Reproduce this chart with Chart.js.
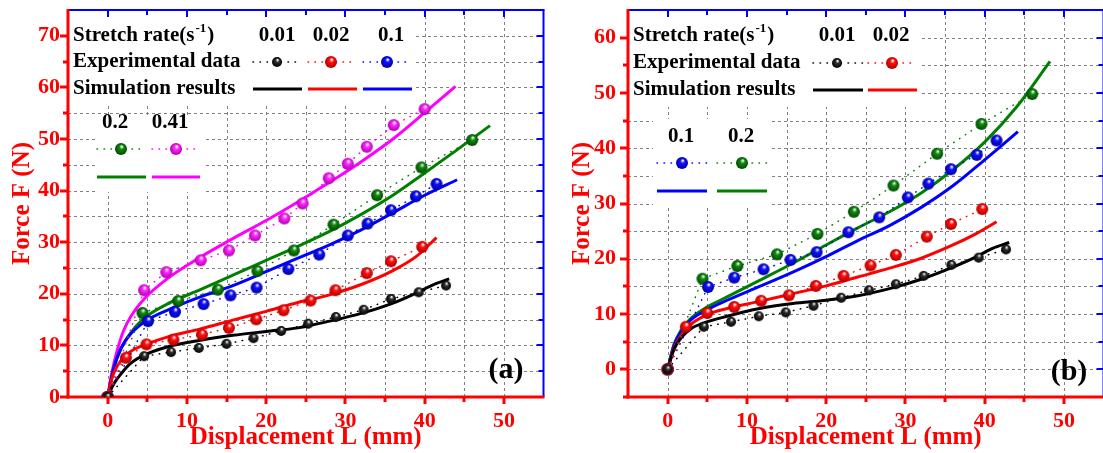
<!DOCTYPE html>
<html>
<head>
<meta charset="utf-8">
<script src="https://cdn.jsdelivr.net/npm/chart.js@4.4.0/dist/chart.umd.min.js"></script>
<style>
  html, body { margin: 0; padding: 0; background: #fff; overflow: hidden; }
  #wrap { position: relative; width: 1103px; height: 453px; overflow: hidden; }
  #chartA { position: absolute; left: 0; top: 0; }
  #chartB { position: absolute; left: 551px; top: 0; }
</style>
</head>
<body>
<div id="wrap">
  <canvas id="chartA" width="551" height="453"></canvas>
  <canvas id="chartB" width="560" height="453"></canvas>
</div>
<script>
// stretch rates (s^-1) and their colours
const rates = ['0.01', '0.02', '0.1', '0.2', '0.41'];
const rateColors = ['#000000', '#ff0000', '#0000ff', '#008000', '#ff00ff'];
const ballBody = ['#303030', '#ff1010', '#1010ff', '#108a10', '#ff2aff'];
const ballEdge = ['#000000', '#b00000', '#0000a0', '#004a00', '#b000b0'];

// tick labels
const xTickLabels = [0, 10, 20, 30, 40, 50];
const yTickLabelsA = [0, 10, 20, 30, 40, 50, 60, 70];
const yTickLabelsB = [0, 10, 20, 30, 40, 50, 60];

// (a) experimental data: displacement (mm), force (N)
const a_exp_x_001 = [0, 4.6, 8.0, 11.5, 15.0, 18.4, 21.9, 25.3, 28.8, 32.3, 35.75, 39.25, 42.7];
const a_exp_y_001 = [0, 7.9, 8.7, 9.5, 10.3, 11.4, 12.8, 14.2, 15.5, 16.9, 19.0, 20.3, 21.6];
const a_exp_x_002 = [0, 2.3, 4.9, 8.3, 11.9, 15.3, 18.75, 22.2, 25.6, 28.75, 32.7, 35.75, 39.7];
const a_exp_y_002 = [0, 7.6, 10.2, 11.1, 12.1, 13.4, 15.05, 16.8, 18.7, 20.7, 24.0, 26.3, 29.1];
const a_exp_x_01 = [0, 5.1, 8.5, 12.1, 15.5, 18.8, 22.8, 26.7, 30.3, 32.8, 35.75, 38.9, 41.5];
const a_exp_y_01 = [0, 14.7, 16.5, 18.0, 19.7, 21.2, 24.8, 27.6, 31.3, 33.6, 36.2, 38.9, 41.3];
const a_exp_x_02 = [0, 4.4, 8.9, 13.9, 18.9, 23.5, 28.5, 34.0, 39.6, 46.0];
const a_exp_y_02 = [0, 16.3, 18.6, 20.8, 24.4, 28.4, 33.4, 39.1, 44.5, 49.8];
const a_exp_x_041 = [0, 4.6, 7.4, 11.75, 15.3, 18.6, 22.3, 24.6, 27.9, 30.3, 32.7, 36.1, 40.0];
const a_exp_y_041 = [0, 20.7, 24.2, 26.5, 28.4, 31.3, 34.6, 37.5, 42.4, 45.2, 48.5, 52.7, 55.8];

// (a) simulation results
const a_sim_x_001 = [0, 0.8, 1.7, 2.9, 4.6, 7.5, 11.7, 15.8, 20, 24, 28, 32, 36, 39, 41, 43.1];
const a_sim_y_001 = [0, 2.6, 4.5, 6.5, 8.1, 9.7, 11.0, 11.95, 12.7, 13.4, 14.7, 16.2, 18.2, 20.2, 21.7, 22.9];
const a_sim_x_002 = [0, 0.6, 1.25, 2.3, 3.3, 5, 7.5, 11.7, 15.8, 20, 24, 28, 32, 36, 39, 41.5];
const a_sim_y_002 = [0, 3.9, 6.1, 8.1, 9.2, 10.3, 11.6, 13.2, 14.9, 16.6, 18.3, 19.8, 21.8, 24.5, 27.3, 30.9];
const a_sim_x_01 = [0, 0.8, 1.7, 2.9, 5, 7.5, 11.7, 15.8, 20, 24, 28, 32, 36, 40, 44.1];
const a_sim_y_01 = [0, 5.8, 9.5, 12.2, 14.9, 16.8, 19.4, 21.6, 24.3, 26.9, 29.5, 32.4, 35.7, 39.1, 42.1];
const a_sim_x_02 = [0, 0.8, 1.7, 2.9, 4.4, 7.5, 11.7, 15.8, 20, 24, 28, 32, 36, 40, 44, 48.25];
const a_sim_y_02 = [0, 5.6, 9.4, 12.4, 15.0, 18.0, 20.8, 23.6, 26.5, 29.2, 32.1, 35.4, 39.1, 43.4, 47.8, 52.6];
const a_sim_x_041 = [0, 0.5, 1.2, 2, 3, 4.6, 7.5, 11.7, 15.8, 20, 24, 28, 32, 36, 40, 43.9];
const a_sim_y_041 = [0, 4.5, 9.0, 12.8, 15.8, 19.0, 22.9, 27.1, 30.7, 34.2, 37.8, 41.6, 45.6, 50.0, 55.1, 60.2];

// (b) experimental data
const b_exp_x_001 = [0, 4.56, 8.0, 11.5, 14.9, 18.4, 21.9, 25.4, 28.8, 32.3, 35.8, 39.25, 42.7];
const b_exp_y_001 = [0, 7.7, 8.6, 9.6, 10.3, 11.5, 12.95, 14.3, 15.4, 16.9, 18.9, 20.2, 21.7];
const b_exp_x_002 = [0, 2.3, 5.0, 8.4, 11.8, 15.3, 18.7, 22.2, 25.6, 28.8, 32.7, 35.75, 39.7];
const b_exp_y_002 = [0, 7.7, 10.2, 11.3, 12.4, 13.4, 15.1, 16.9, 18.8, 20.7, 24.0, 26.3, 29.0];
const b_exp_x_01 = [0, 5.1, 8.4, 12.1, 15.5, 18.8, 22.8, 26.7, 30.3, 32.9, 35.75, 39.0, 41.5];
const b_exp_y_01 = [0, 14.9, 16.6, 18.1, 19.8, 21.2, 24.8, 27.5, 31.1, 33.6, 36.2, 38.8, 41.4];
const b_exp_x_02 = [0, 4.4, 8.8, 13.8, 18.9, 23.5, 28.5, 34.0, 39.6, 46.0];
const b_exp_y_02 = [0, 16.4, 18.7, 20.8, 24.5, 28.5, 33.25, 39.0, 44.4, 49.8];

// (b) simulation results
const b_sim_x_001 = [0, 0.8, 1.7, 2.9, 4.6, 7.5, 11.6, 15.8, 20, 24, 28, 32, 36, 39, 41, 43.1];
const b_sim_y_001 = [0, 3.6, 5.7, 7.3, 8.4, 9.6, 11.0, 11.9, 12.5, 13.3, 14.6, 16.3, 18.5, 20.4, 21.9, 22.95];
const b_sim_x_002 = [0, 0.8, 1.7, 2.9, 5, 7.5, 11.6, 15.8, 20, 24, 28, 32, 36, 39, 41.5];
const b_sim_y_002 = [0, 3.8, 6.1, 8.1, 9.9, 11.0, 12.3, 13.7, 15.1, 16.7, 18.3, 20.1, 22.5, 24.6, 26.7];
const b_sim_x_01 = [0, 0.8, 1.7, 2.9, 5, 7.5, 11.6, 15.8, 20, 24, 28, 32, 36, 40, 42, 44.2];
const b_sim_y_01 = [0, 4.3, 6.8, 8.9, 10.8, 12.5, 15.0, 17.6, 20.4, 23.3, 26.0, 29.3, 33.2, 37.9, 40.3, 43.0];
const b_sim_x_02 = [0, 0.8, 1.7, 2.9, 5, 7.5, 11.6, 15.8, 20, 24, 28, 32, 36, 40, 44, 48.25];
const b_sim_y_02 = [0, 4.5, 7.1, 9.2, 11.3, 13.1, 16.1, 19.2, 22.5, 25.6, 28.5, 31.9, 36.1, 41.1, 47.4, 55.7];

const serif = "'Liberation Serif', 'Times New Roman', serif";

// shaded ball used as point marker
function makeBall(k, r) {
  const s = Math.ceil(r * 2) + 2;
  const c = document.createElement('canvas');
  c.width = s; c.height = s;
  const g = c.getContext('2d');
  const cx = s / 2, cy = s / 2;
  const grad = g.createRadialGradient(cx + r * 0.15, cy - r * 0.45, r * 0.05, cx, cy, r);
  grad.addColorStop(0, '#ffffff');
  grad.addColorStop(0.35, ballBody[k]);
  grad.addColorStop(1, ballEdge[k]);
  g.fillStyle = grad;
  g.beginPath();
  g.arc(cx, cy, r, 0, Math.PI * 2);
  g.fill();
  return c;
}
const balls = rates.map((r, k) => makeBall(k, k === 0 ? 5 : 6));

function pts(xs, ys) { return xs.map((x, i) => ({ x: x, y: ys[i] })); }

function expSet(xs, ys, k) {
  return {
    data: pts(xs, ys), showLine: true, borderColor: rateColors[k], borderWidth: 1.5,
    borderDash: [0.5, 6.5], borderCapStyle: 'round', tension: 0,
    pointStyle: balls[k], pointRadius: 6, order: 1
  };
}
function simSet(xs, ys, k) {
  return {
    data: pts(xs, ys), showLine: true, borderColor: rateColors[k], borderWidth: 3,
    pointRadius: 0, cubicInterpolationMode: 'monotone', order: 2
  };
}

function line(ctx, x0, y0, x1, y1) {
  ctx.beginPath(); ctx.moveTo(x0, y0); ctx.lineTo(x1, y1); ctx.stroke();
}

// dashed grey grid every 5 units
function drawGrid(chart) {
  const ctx = chart.ctx, a = chart.chartArea;
  const x = chart.scales.x, y = chart.scales.y;
  ctx.save();
  ctx.strokeStyle = '#808080';
  ctx.lineWidth = 1;
  ctx.setLineDash([3, 3]);
  for (let v = x.min + 5; v < x.max; v += 5) {
    const px = Math.round(x.getPixelForValue(v)) + 0.5;
    line(ctx, px, a.top, px, a.bottom);
  }
  for (let v = y.min + 5; v < y.max; v += 5) {
    const py = Math.round(y.getPixelForValue(v)) + 0.5;
    line(ctx, a.left, py, a.right, py);
  }
  ctx.restore();
}

function drawFrame(chart) {
  const ctx = chart.ctx, a = chart.chartArea;
  const x = chart.scales.x, y = chart.scales.y;
  ctx.save();
  ctx.setLineDash([]);
  // top and right axes, ticks pointing in
  ctx.strokeStyle = '#0000ff';
  ctx.lineWidth = 2;
  for (let v = x.min + 5; v < x.max; v += 5) {
    const px = Math.round(x.getPixelForValue(v));
    line(ctx, px, a.top, px, a.top + (v % 10 === 0 ? 7 : 5));
  }
  for (let v = y.min + 5; v < y.max; v += 5) {
    const py = Math.round(y.getPixelForValue(v));
    line(ctx, a.right, py, a.right - (v % 10 === 0 ? 7 : 5), py);
  }
  line(ctx, a.left, a.top, a.right + 1, a.top);
  line(ctx, a.right, a.top, a.right, a.bottom);
  // left and bottom axes, ticks pointing out
  ctx.strokeStyle = '#ff0000';
  ctx.lineWidth = 3;
  for (let v = x.min + 5; v < x.max; v += 5) {
    const px = Math.round(x.getPixelForValue(v));
    line(ctx, px, a.bottom, px, a.bottom + (v % 10 === 0 ? 7 : 5));
  }
  for (let v = y.min; v < y.max; v += 5) {
    const py = Math.round(y.getPixelForValue(v));
    line(ctx, a.left, py, a.left - (v % 10 === 0 ? 8 : 5), py);
  }
  line(ctx, a.left, a.top - 1, a.left, a.bottom + 1.5);
  line(ctx, a.left - 1.5, a.bottom, a.right + 1, a.bottom);
  ctx.restore();
}

const panelPlugin = {
  id: 'panel',
  beforeDatasetsDraw(chart, args, o) {
    const ctx = chart.ctx;
    drawGrid(chart);
    ctx.save();
    ctx.fillStyle = '#ffffff';
    o.boxes.forEach(b => ctx.fillRect(b[0], b[1], b[2] - b[0], b[3] - b[1]));
    ctx.restore();
    drawFrame(chart);

    ctx.save();
    ctx.fillStyle = '#000000';
    ctx.textBaseline = 'middle';
    ctx.textAlign = 'left';
    ctx.font = 'bold 21px ' + serif;
    // row captions
    const w = ctx.measureText('Stretch rate(s').width;
    ctx.fillText('Stretch rate(s', o.textX, o.rows[0]);
    ctx.font = 'bold 13px ' + serif;
    ctx.fillText('-1', o.textX + w + 1, o.rows[0] - 7);
    const w2 = ctx.measureText('-1').width;
    ctx.font = 'bold 21px ' + serif;
    ctx.fillText(')', o.textX + w + w2 + 2, o.rows[0]);
    ctx.fillText('Experimental data', o.textX, o.rows[1]);
    ctx.fillText('Simulation results', o.textX, o.rows[2]);

    // one column per stretch rate
    o.cols.forEach(c => {
      ctx.fillStyle = '#000000';
      ctx.textAlign = 'center';
      ctx.font = 'bold 21px ' + serif;
      ctx.fillText(rates[c.s], c.lx, c.ly);
      ctx.strokeStyle = rateColors[c.s];
      ctx.lineCap = 'round';
      ctx.lineWidth = 1.5;
      ctx.setLineDash([0.5, 6.5]);
      line(ctx, c.x0, c.dy, c.x1, c.dy);
      ctx.setLineDash([]);
      ctx.lineCap = 'butt';
      ctx.lineWidth = 3;
      line(ctx, c.x0, c.sy, c.x1, c.sy);
      const b = balls[c.s];
      ctx.drawImage(b, c.bx - b.width / 2, c.dy - b.height / 2);
    });
    ctx.restore();
  },
  afterDraw(chart, args, o) {
    const ctx = chart.ctx;
    ctx.save();
    ctx.fillStyle = '#000000';
    ctx.font = 'bold 30px ' + serif;
    ctx.textAlign = 'center';
    ctx.textBaseline = 'middle';
    ctx.fillText(o.tag, o.tagX, o.tagY);
    ctx.restore();
  }
};

function makePanel(id, datasets, yMin, yMax, yLabels, yLabelPad, yWidth, titlePad, panelOpts) {
  return new Chart(document.getElementById(id), {
    type: 'scatter',
    data: { datasets: datasets },
    plugins: [panelPlugin],
    options: {
      responsive: false,
      devicePixelRatio: 1,
      animation: false,
      events: [],
      layout: { padding: { left: 0, right: 4, top: 10, bottom: 0 } },
      scales: {
        x: {
          type: 'linear', min: -5, max: 55,
          grid: { display: false, drawTicks: false },
          border: { display: false },
          ticks: {
            stepSize: 5, autoSkip: false, maxRotation: 0, padding: 11, color: '#ff0000',
            font: { family: serif, size: 22, weight: 'bold' },
            callback: v => xTickLabels.includes(v) ? String(v) : ''
          },
          title: {
            display: true, text: 'Displacement L (mm)', color: '#ff0000',
            font: { family: serif, size: 25, weight: 'bold' }, padding: { top: 0, bottom: 0 }
          },
          afterFit: s => { s.height = 56; s.paddingLeft = 0; s.paddingRight = 0; }
        },
        y: {
          type: 'linear', min: yMin, max: yMax,
          grid: { display: false, drawTicks: false },
          border: { display: false },
          ticks: {
            stepSize: 5, autoSkip: false, padding: yLabelPad, color: '#ff0000',
            font: { family: serif, size: 22, weight: 'bold' },
            callback: v => yLabels.includes(v) ? String(v) : ''
          },
          title: {
            display: true, text: 'Force F (N)', color: '#ff0000',
            font: { family: serif, size: 25, weight: 'bold' }, padding: { top: titlePad, bottom: 0 }
          },
          afterFit: s => { s.width = yWidth; s.paddingTop = 0; s.paddingBottom = 0; }
        }
      },
      plugins: {
        legend: { display: false },
        tooltip: { enabled: false },
        panel: panelOpts
      }
    }
  });
}

makePanel('chartA', [
  simSet(a_sim_x_001, a_sim_y_001, 0),
  simSet(a_sim_x_002, a_sim_y_002, 1),
  simSet(a_sim_x_01, a_sim_y_01, 2),
  simSet(a_sim_x_02, a_sim_y_02, 3),
  simSet(a_sim_x_041, a_sim_y_041, 4),
  expSet(a_exp_x_001, a_exp_y_001, 0),
  expSet(a_exp_x_002, a_exp_y_002, 1),
  expSet(a_exp_x_01, a_exp_y_01, 2),
  expSet(a_exp_x_02, a_exp_y_02, 3),
  expSet(a_exp_x_041, a_exp_y_041, 4)
], 0, 75, yTickLabelsA, 8, 68, 8, {
  boxes: [[69, 11, 415, 103], [97, 118, 203, 192]],
  textX: 73, rows: [36, 62, 89],
  cols: [
    { s: 0, lx: 277, ly: 36, x0: 253, x1: 302, bx: 277, dy: 62, sy: 89 },
    { s: 1, lx: 331, ly: 36, x0: 308, x1: 357, bx: 331, dy: 62, sy: 89 },
    { s: 2, lx: 391, ly: 36, x0: 363, x1: 412, bx: 387, dy: 62, sy: 89 },
    { s: 3, lx: 115, ly: 123, x0: 97, x1: 146, bx: 121, dy: 149, sy: 177 },
    { s: 4, lx: 170, ly: 123, x0: 152, x1: 200, bx: 176, dy: 149, sy: 177 }
  ],
  tag: '(a)', tagX: 506, tagY: 370
});

makePanel('chartB', [
  simSet(b_sim_x_001, b_sim_y_001, 0),
  simSet(b_sim_x_002, b_sim_y_002, 1),
  simSet(b_sim_x_01, b_sim_y_01, 2),
  simSet(b_sim_x_02, b_sim_y_02, 3),
  expSet(b_exp_x_001, b_exp_y_001, 0),
  expSet(b_exp_x_002, b_exp_y_002, 1),
  expSet(b_exp_x_01, b_exp_y_01, 2),
  expSet(b_exp_x_02, b_exp_y_02, 3)
], -5, 65, yTickLabelsB, 12, 77, 17, {
  boxes: [[78, 11, 369, 107], [102, 119, 219, 205]],
  textX: 82, rows: [36, 63, 90],
  cols: [
    { s: 0, lx: 286, ly: 36, x0: 262, x1: 312, bx: 286, dy: 63, sy: 90 },
    { s: 1, lx: 340, ly: 36, x0: 317, x1: 366, bx: 341, dy: 63, sy: 90 },
    { s: 2, lx: 130, ly: 137, x0: 106, x1: 156, bx: 131, dy: 163, sy: 191 },
    { s: 3, lx: 190, ly: 137, x0: 166, x1: 216, bx: 191, dy: 163, sy: 191 }
  ],
  tag: '(b)', tagX: 518, tagY: 372
});
</script>
</body>
</html>
